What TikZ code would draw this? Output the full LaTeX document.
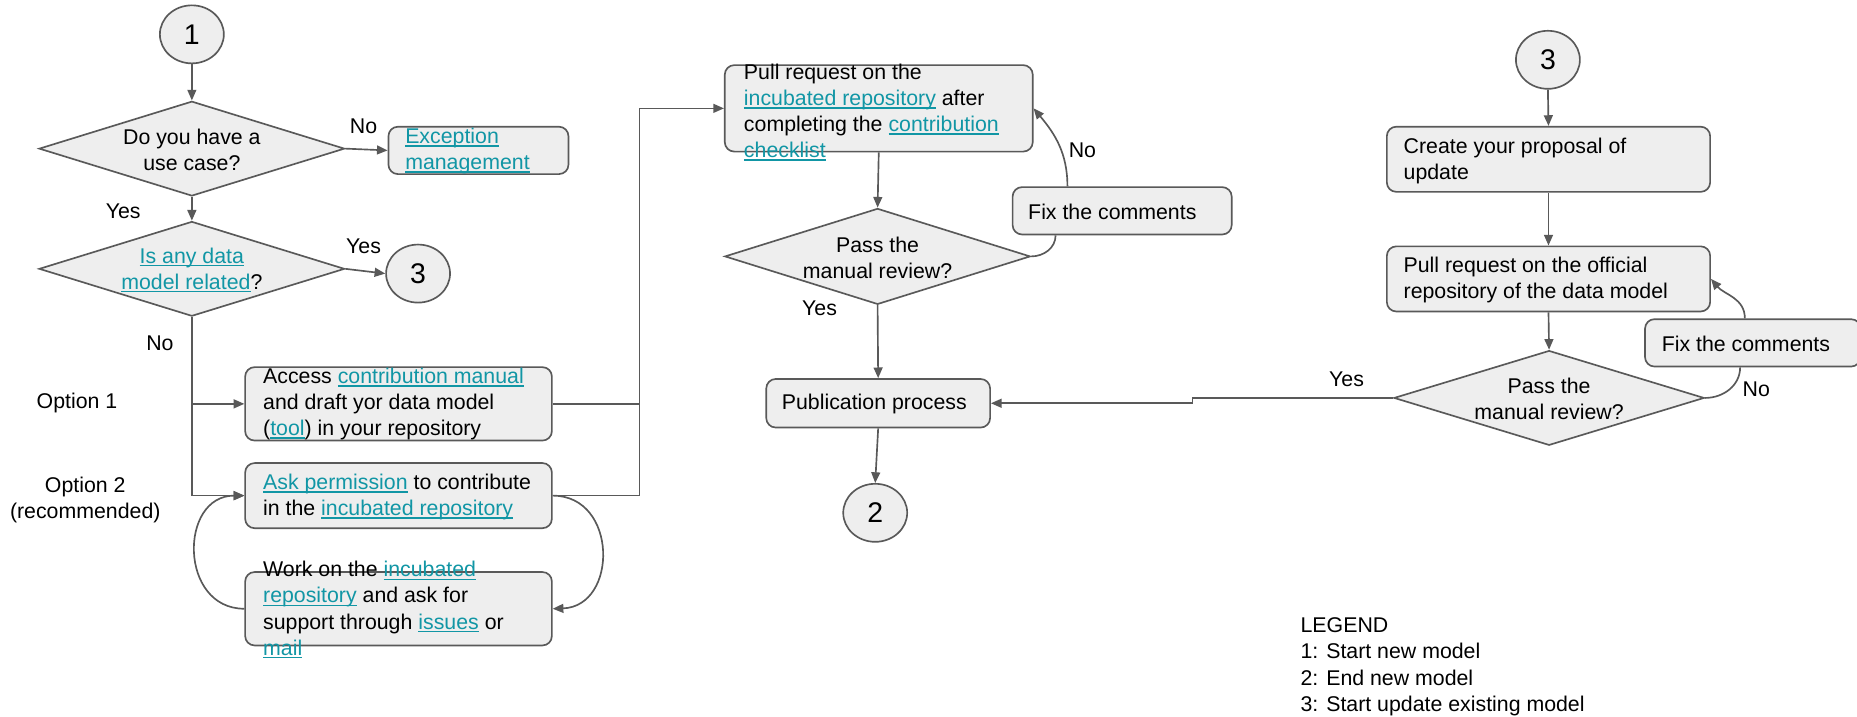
\documentclass[tikz,border=0pt]{standalone}
\usepackage{fontspec}
\setmainfont{Liberation Sans}
\usetikzlibrary{shapes.geometric,arrows.meta}
\definecolor{gc}{HTML}{595959}
\definecolor{fillc}{HTML}{EEEEEE}
\definecolor{linkc}{HTML}{1196A5}
\newcommand\lnk[1]{{\color{linkc}\setbox0\hbox{#1}\rlap{\rule[-2.8pt]{\wd0}{1.3pt}}\box0}}
\begin{document}
\begin{tikzpicture}[x=1pt,y=-1pt,
  line/.style={draw=gc,line width=1.4pt},
  arr/.style={line,-{Triangle[length=9pt,width=7.5pt]}},
  box/.style={rectangle,rounded corners=8pt,fill=fillc,draw=gc,line width=1.4pt,inner sep=0},
  circ/.style={ellipse,fill=fillc,draw=gc,line width=1.4pt,minimum width=54pt,minimum height=49pt,inner sep=0,font=\fontsize{24}{24}\selectfont},
  dia/.style={diamond,fill=fillc,draw=gc,line width=1.4pt,inner sep=0},
  txt/.style={align=left,inner sep=0,font=\fontsize{18}{22}\selectfont,anchor=west},
  ctxt/.style={align=center,inner sep=0,font=\fontsize{18}{22}\selectfont},
  lbl/.style={inner sep=0,font=\fontsize{18}{22}\selectfont}]
\useasboundingbox[fill=white] (0,0) rectangle (1568,605);

% ---------- left column ----------
\node[circ] (c1) at (162,29) {1};
\node[dia,minimum width=258pt,minimum height=80pt] (d1) at (162,125.5) {};
\node[ctxt] (td1) at (162,126.5) {Do you have a\\use case?};
\node[box,minimum width=152pt,minimum height=40pt] (ex) at (404,127) {};
\node[txt] (tex) at (342,127.5) {\lnk{Exception}\\\lnk{management}};
\node[dia,minimum width=258pt,minimum height=80pt] (d2) at (162,227) {};
\node[ctxt] (td2) at (162,228) {\lnk{Is any data}\\\lnk{model related}?};
\node[circ] (c3a) at (353,231) {3};

\node[box,minimum width=259pt,minimum height=62pt] (ac) at (336.5,341) {};
\node[txt] (tac) at (222,341) {Access \lnk{contribution manual}\\and draft yor data model\\(\lnk{tool}) in your repository};
\node[box,minimum width=259pt,minimum height=55pt] (ak) at (336.5,418.5) {};
\node[txt] (tak) at (222,419.5) {\lnk{Ask permission} to contribute\\in the \lnk{incubated repository}};
\node[box,minimum width=259pt,minimum height=62pt] (wk) at (336.5,514) {};
\node[txt] (twk) at (222,515) {Work on the \lnk{incubated}\\\lnk{repository} and ask for\\support through \lnk{issues} or\\\lnk{mail}};

\node[lbl] (no1) at (307,107) {No};
\node[lbl] (yes1) at (104,178) {Yes};
\node[lbl] (yes2) at (307,208) {Yes};
\node[lbl] (no2) at (135,290) {No};
\node[lbl] (op1) at (65,340) {Option 1};
\node[lbl,align=center] (op2) at (72,422) {Option 2\\(recommended)};

% ---------- middle column ----------
\node[box,minimum width=260pt,minimum height=73pt] (pr) at (742,91.5) {};
\node[txt] (tpr) at (628,95) {Pull request on the\\\lnk{incubated repository} after\\completing the \lnk{contribution}\\\lnk{checklist}};
\node[dia,minimum width=258pt,minimum height=81pt] (d3) at (741,216.5) {};
\node[ctxt] (td3) at (741,217.5) {Pass the\\manual review?};
\node[box,minimum width=189pt,minimum height=41pt] (pub) at (741.5,340.5) {};
\node[txt] (tpub) at (660,341) {Publication process};
\node[circ] (c2) at (739,433) {2};
\node[box,minimum width=185pt,minimum height=40pt] (f1) at (947.5,178) {};
\node[txt] (tf1) at (868,178.5) {Fix the comments};
\node[lbl] (yes3) at (692,260) {Yes};
\node[lbl] (no3) at (914,127) {No};

% ---------- right column ----------
\node[circ] (c3b) at (1307,50.5) {3};
\node[box,minimum width=273pt,minimum height=55pt] (cr) at (1307.5,134.5) {};
\node[txt] (tcr) at (1185,136) {Create your proposal of\\update};
\node[box,minimum width=273pt,minimum height=55pt] (po) at (1307.5,235.5) {};
\node[txt] (tpo) at (1185,236.5) {Pull request on the official\\repository of the data model};
\node[dia,minimum width=262pt,minimum height=80pt] (d4) at (1308,336) {};
\node[ctxt] (td4) at (1308,337) {Pass the\\manual review?};
\node[box,minimum width=182pt,minimum height=40pt] (f2) at (1480,289.5) {};
\node[txt] (tf2) at (1403,290) {Fix the comments};
\node[lbl] (yes4) at (1137,320) {Yes};
\node[lbl] (no4) at (1483,329) {No};

% legend
\node[txt] (leg) at (1098,563) {LEGEND\\1: Start new model\\2: End new model\\3: Start update existing model};

% ---------- connectors ----------
\coordinate (jx) at (540,0);
\coordinate (jy) at (1007,0);
\coordinate (trunk) at (162,0);

\draw[arr] (c1.south) -- (d1.north);
\draw[arr] (d1.east) -- (ex.west);
\draw[arr] (d1.south) -- (d2.north);
\draw[arr] (d2.east) -- (c3a.west);
\draw[arr] (d2.south) -- (trunk |- ak.west) -- (ak.west);
\draw[arr] (trunk |- ac.west) -- (ac.west);
\draw[arr] (ak.east) .. controls (522,418.5) and (522,512) .. (wk.east);
\draw[arr] (wk.west) .. controls (151,514) and (151,418.5) .. (ak.west);
\draw[line] (ac.east) -- (ac.east -| jx);
\draw[arr] (ak.east) -- (ak.east -| jx) -- (jx |- pr.west) -- (pr.west);

\draw[arr] (pr.south) -- (d3.north);
\draw[arr] (d3.south) -- (pub.north);
\draw[arr] (pub.south) -- (c2.north);
\draw[line] (d3.east) to[out=0,in=-90] ([xshift=37pt]f1.south west);
\draw[arr] ([xshift=47pt]f1.north west) to[out=90,in=-50] (pr.east);

\draw[arr] (c3b.south) -- (cr.north);
\draw[arr] (cr.south) -- (po.north);
\draw[arr] (po.south) -- (d4.north);
\draw[line] (d4.east) to[out=0,in=-90] ([xshift=81pt]f2.south west);
\draw[arr] ([xshift=85pt]f2.north west) to[out=90,in=-50] (po.east);
\draw[arr] (d4.west) -- (d4.west -| jy) -- (jy |- pub.east) -- (pub.east);
\end{tikzpicture}
\end{document}
